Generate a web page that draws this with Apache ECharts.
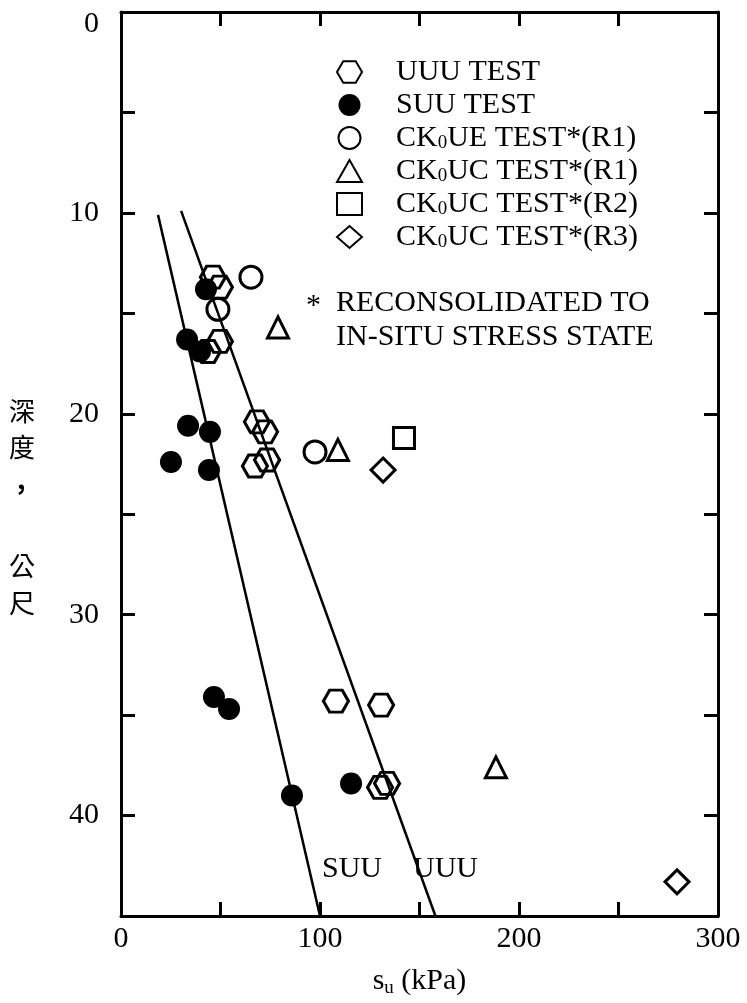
<!DOCTYPE html>
<html>
<head>
<meta charset="utf-8">
<title>深度 - s_u</title>
<script src="https://cdn.jsdelivr.net/npm/echarts@6/dist/echarts.min.js"></script>
<style>
  html, body { margin: 0; padding: 0; background: #fff; }
  #chart { width: 747px; height: 1003px; }
</style>
</head>
<body>
<div id="chart"></div>
<script>
// ---- data: [s_u (kPa), depth (m)] ----
const uuuTest = [[46.2, 13.2], [49.7, 13.7], [49.7, 16.4], [43.7, 16.9],
                 [68.3, 20.4], [72.4, 20.9], [67.3, 22.6], [73.4, 22.3],
                 [108, 34.3], [130.7, 34.5], [130.2, 38.6], [133.7, 38.4]];
const suuTest = [[42.7, 13.8], [33.2, 16.3], [39.7, 16.9], [33.7, 20.6],
                 [44.7, 20.9], [25.1, 22.4], [44.2, 22.8], [46.7, 34.1],
                 [54.3, 34.7], [85.9, 39.0], [115.6, 38.4]];
const ck0ueR1 = [[65.3, 13.2], [48.7, 14.8], [97.5, 21.9]];
const ck0ucR1 = [[78.9, 15.7], [109, 21.8], [188.4, 37.6]];
const ck0ucR2 = [[142.2, 21.2]];
const ck0ucR3 = [[131.7, 22.8], [279.4, 43.3]];

// trend lines
const suuLine = [[18.6, 10.1], [100, 45]];
const uuuLine = [[30.2, 9.9], [158, 45]];

// legend entries (plain names) and their rich-text forms
const seriesNames = ['UUU TEST', 'SUU TEST', 'CK0UE TEST*(R1)', 'CK0UC TEST*(R1)', 'CK0UC TEST*(R2)', 'CK0UC TEST*(R3)'];
const legendText = {
  'UUU TEST': 'UUU TEST',
  'SUU TEST': 'SUU TEST',
  'CK0UE TEST*(R1)': 'CK{sub|0}UE TEST*(R1)',
  'CK0UC TEST*(R1)': 'CK{sub|0}UC TEST*(R1)',
  'CK0UC TEST*(R2)': 'CK{sub|0}UC TEST*(R2)',
  'CK0UC TEST*(R3)': 'CK{sub|0}UC TEST*(R3)'
};

// axis ranges
const xMin = 0, xMax = 300, xStep = 50;
const yMin = 0, yMax = 45, yStep = 5;

const SERIF = '"Liberation Serif", "Times New Roman", serif';
const CJK = '"Noto Sans CJK TC", "Noto Sans CJK SC", sans-serif';
const INK = '#000';
const HEX = 'path://M0,10 L5,1.34 L15,1.34 L20,10 L15,18.66 L5,18.66 Z';

const chart = echarts.init(document.getElementById('chart'), null, { renderer: 'canvas' });

const frameLine = { show: true, onZero: false, lineStyle: { color: INK, width: 3 } };
const frameTick = { show: true, inside: true, length: 14, lineStyle: { color: INK, width: 3 } };

const openStyle = { color: 'rgba(0,0,0,0)', borderColor: INK, borderWidth: 3, opacity: 1 };

function scatter(name, data, symbol, size, style) {
  return {
    name, type: 'scatter', data, symbol, symbolSize: size,
    itemStyle: style, z: 3, emphasis: { disabled: true }
  };
}

const option = {
  backgroundColor: '#fff',
  animation: false,
  grid: { left: 121, right: 29, top: 12, bottom: 86 },
  xAxis: [
    {
      type: 'value', position: 'bottom', min: xMin, max: xMax, interval: xStep,
      axisLine: frameLine, axisTick: frameTick, splitLine: { show: false },
      axisLabel: {
        color: INK, fontFamily: SERIF, fontSize: 30, margin: 8,
        formatter: v => (v % 100 === 0 ? String(v) : '')
      },
      name: '{s|s}{u|u}{s| (kPa)}', nameLocation: 'middle', nameGap: 48,
      nameTextStyle: {
        rich: {
          s: { fontFamily: SERIF, fontSize: 30, color: INK, lineHeight: 34 },
          u: { fontFamily: SERIF, fontSize: 19, color: INK, lineHeight: 34, verticalAlign: 'bottom', padding: [14, 0, 0, 0] }
        }
      }
    },
    {
      type: 'value', position: 'top', min: xMin, max: xMax, interval: xStep,
      axisLine: frameLine, axisTick: frameTick, splitLine: { show: false },
      axisLabel: { show: false }
    }
  ],
  yAxis: [
    {
      type: 'value', position: 'left', inverse: true, min: yMin, max: yMax, interval: yStep,
      axisLine: frameLine, axisTick: frameTick, splitLine: { show: false },
      axisLabel: {
        color: INK, fontFamily: SERIF, fontSize: 30, margin: 22,
        formatter: v => (v === 0 ? '{z|0}' : (v % 10 === 0 ? String(v) : '')),
        rich: { z: { fontFamily: SERIF, fontSize: 30, color: INK, padding: [24, 0, 0, 0] } }
      }
    },
    {
      type: 'value', position: 'right', inverse: true, min: yMin, max: yMax, interval: yStep,
      axisLine: frameLine, axisTick: frameTick, splitLine: { show: false },
      axisLabel: { show: false }
    }
  ],
  legend: {
    orient: 'vertical', left: 331, top: 52,
    itemWidth: 25, itemHeight: 22, itemGap: 3,
    selectedMode: false,
    data: seriesNames,
    formatter: name => '{sp| }' + legendText[name],
    textStyle: {
      fontFamily: SERIF, fontSize: 30, color: INK, lineHeight: 30,
      rich: {
        sp: { width: 29, lineHeight: 30 },
        sub: { fontFamily: SERIF, fontSize: 19, color: INK, lineHeight: 22, verticalAlign: 'bottom' }
      }
    }
  },
  graphic: [
    // y-axis title, written vertically
    { type: 'text', left: 9, top: 398, style: { text: '深', font: '26px ' + CJK, fill: INK } },
    { type: 'text', left: 9, top: 434, style: { text: '度', font: '26px ' + CJK, fill: INK } },
    { type: 'text', left: 17, top: 466, style: { text: ',', font: 'bold 26px ' + CJK, fill: INK } },
    { type: 'text', left: 9, top: 553, style: { text: '公', font: '26px ' + CJK, fill: INK } },
    { type: 'text', left: 9, top: 590, style: { text: '尺', font: '26px ' + CJK, fill: INK } },
    // note under the legend
    { type: 'text', left: 306, top: 291, style: { text: '*', font: '30px ' + SERIF, fill: INK } },
    { type: 'text', left: 336, top: 288, style: { text: 'RECONSOLIDATED TO', font: '30px ' + SERIF, fill: INK } },
    { type: 'text', left: 336, top: 322, style: { text: 'IN-SITU STRESS STATE', font: '30px ' + SERIF, fill: INK } },
    // trend line labels
    { type: 'text', left: 322, top: 854, style: { text: 'SUU', font: '30px ' + SERIF, fill: INK } },
    { type: 'text', left: 413, top: 854, style: { text: 'UUU', font: '30px ' + SERIF, fill: INK } }
  ],
  series: [
    {
      name: 'SUU line', type: 'line', data: suuLine, symbol: 'none', z: 1,
      lineStyle: { color: INK, width: 2.5 }, emphasis: { disabled: true }
    },
    {
      name: 'UUU line', type: 'line', data: uuuLine, symbol: 'none', z: 1,
      lineStyle: { color: INK, width: 2.5 }, emphasis: { disabled: true }
    },
    scatter('SUU TEST', suuTest, 'circle', 22, { color: INK, borderWidth: 0, opacity: 1 }),
    scatter('UUU TEST', uuuTest, HEX, [25, 22], openStyle),
    scatter('CK0UE TEST*(R1)', ck0ueR1, 'circle', 22, openStyle),
    scatter('CK0UC TEST*(R1)', ck0ucR1, 'triangle', 21, openStyle),
    scatter('CK0UC TEST*(R2)', ck0ucR2, 'rect', 21, openStyle),
    scatter('CK0UC TEST*(R3)', ck0ucR3, 'diamond', [24, 24], openStyle)
  ]
};

chart.setOption(option);
</script>
</body>
</html>
